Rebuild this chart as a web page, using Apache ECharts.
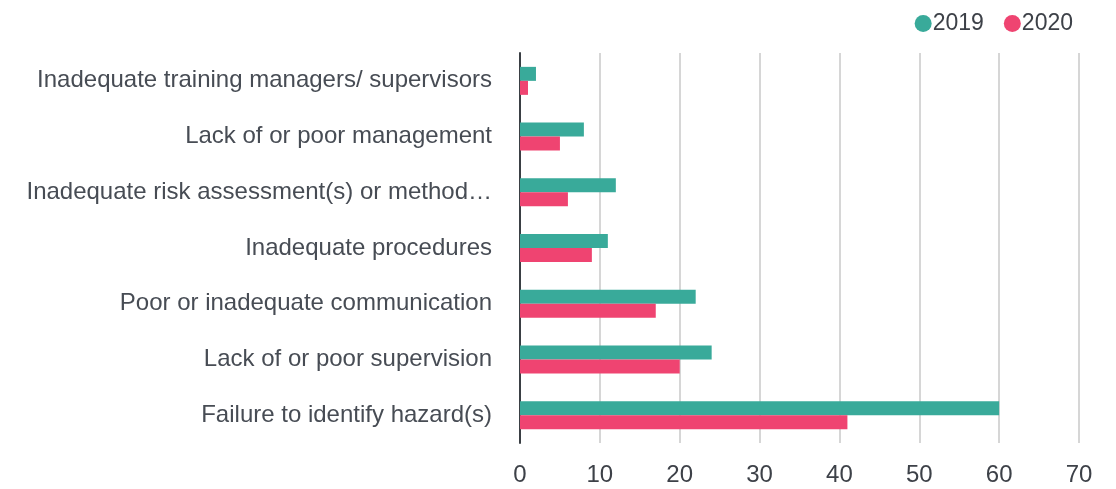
<!DOCTYPE html>
<html><head><meta charset="utf-8">
<script src="https://cdn.jsdelivr.net/npm/echarts@6/dist/echarts.min.js"></script>
<style>html,body{margin:0;padding:0;background:#fff}#c{width:1116px;height:489px}</style>
</head><body><div id="c"></div>
<script>
const categories = [
  "Inadequate training managers/ supervisors",
  "Lack of or poor management",
  "Inadequate risk assessment(s) or method\u2026",
  "Inadequate procedures",
  "Poor or inadequate communication",
  "Lack of or poor supervision",
  "Failure to identify hazard(s)"
];
const values2019 = [2, 8, 12, 11, 22, 24, 60];
const values2020 = [1, 5, 6, 9, 17, 20, 41];
const xTicks = [0, 10, 20, 30, 40, 50, 60, 70];

const chart = echarts.init(document.getElementById('c'));
const font = 'Liberation Sans, Arial, sans-serif';
chart.setOption({
  animation: false,
  textStyle: { fontFamily: font },
  legend: {
    right: 38, top: 7,
    icon: 'circle', itemWidth: 17, itemHeight: 17, itemGap: 20,
    textStyle: { fontSize: 23, color: '#3d4148', fontFamily: font, padding: [0, 0, 0, -4] },
    data: ['2019', '2020']
  },
  grid: { left: 520, right: 37, top: 53, bottom: 46, containLabel: false },
  xAxis: {
    type: 'value', min: xTicks[0], max: xTicks[xTicks.length - 1], interval: 10,
    axisLine: { show: false }, axisTick: { show: false },
    splitLine: { lineStyle: { color: '#d6d6d6', width: 2 } },
    axisLabel: { fontSize: 24, color: '#3d4148', margin: 20, fontFamily: font }
  },
  yAxis: {
    type: 'category', data: categories, inverse: true,
    axisLine: { show: true, lineStyle: { color: '#3a3f44', width: 2 } },
    axisTick: { show: false },
    axisLabel: { fontSize: 24, color: '#474c54', margin: 28, fontFamily: font }
  },
  series: [
    { name: '2019', type: 'bar', data: values2019, barWidth: 14, barGap: '0%',
      itemStyle: { color: '#39aa9a' } },
    { name: '2020', type: 'bar', data: values2020, barWidth: 14, barGap: '0%',
      itemStyle: { color: '#ef4471' } }
  ]
});
</script></body></html>
